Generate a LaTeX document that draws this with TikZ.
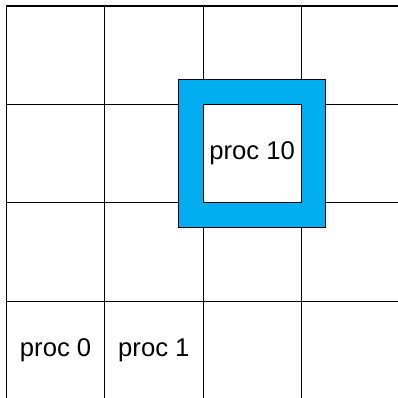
\documentclass[tikz,border=0pt]{standalone}
\usepackage{fontspec}
\setmainfont{Liberation Sans}
\definecolor{procblue}{HTML}{00AEEF}
\begin{document}
\begin{tikzpicture}[x=3.5cm,y=3.5cm,
    every node/.style={font=\fontsize{26}{30}\selectfont},
    gridline/.style={line width=0.8pt},
    halo/.style={line width=0.8pt,fill=procblue,even odd rule}]
  \clip (-0.066,0.012) rectangle (3.985,4.063);
  % Grid
  \foreach \i in {1,2,3}{
    \draw[gridline] (\i,0) -- (\i,4);
    \draw[gridline] (0,\i) -- (4,\i);
  }
  \draw[line width=1.6pt] (0,0) rectangle (4,4);
  % Halo round proc 10
  \draw[halo] (1.75,1.75) rectangle (3.25,3.25) (2,2) rectangle (3,3);
  % Labels
  \node (proc0) at (0.5,0.5) {proc 0};
  \node (proc1) at (1.5,0.5) {proc 1};
  \node (proc10) at (2.5,2.5) {proc 10};
\end{tikzpicture}
\end{document}
